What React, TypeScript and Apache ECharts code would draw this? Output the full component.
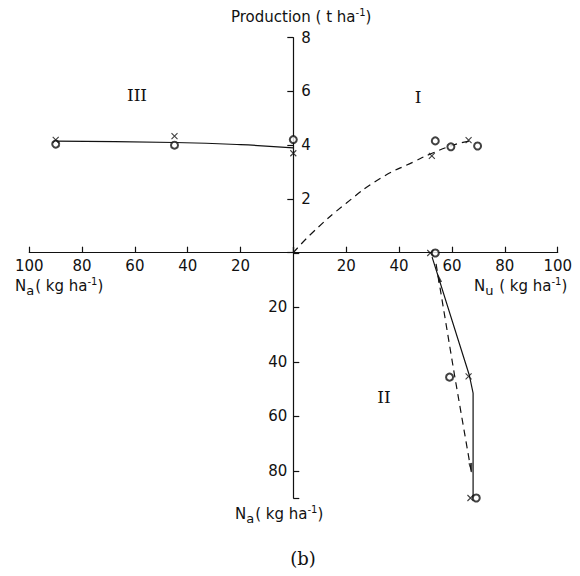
import React, { useEffect, useRef } from "react";
import * as echarts from "echarts";

// Axis ticks (kg ha-1 for the horizontal axis and lower half, t ha-1 for production)
const appliedLeftTicks = [-100, -80, -60, -40, -20, 0];
const uptakeTicks = [0, 20, 40, 60, 80, 100];
const productionTicks = [0, 2, 4, 6, 8];
const appliedTicks = [0, 20, 40, 60, 80];
const appliedMax = 90;

// Quadrant I: production vs N uptake
const curveI = [[0, 0], [7.6, 0.78], [20, 1.84], [33, 2.77], [45.5, 3.38], [52, 3.68], [62, 4.05], [67, 4.15]];
const circlesI = [[53.7, 4.16], [59.6, 3.94], [69.7, 3.97]];
const crossesI = [[52.4, 3.6], [66.3, 4.19]];

// Quadrant III: production vs N applied (plotted to the left)
const curveIII = [[-90, 4.15], [-45, 4.1], [-20, 4.02], [0, 3.9]];
const circlesIII = [[-90, 4.04], [-45, 4.0], [0, 4.21]];
const crossesIII = [[-90, 4.2], [-45, 4.34], [0, 3.7]];

// Quadrant II: N applied (downwards) vs N uptake
const solidII = [[52.5, 1.5], [66.6, 45], [68, 51.5], [68, 90]];
const dashedII = [[54, 4], [61, 45], [67.6, 82]];
const circlesII = [[53.7, 0], [59.1, 45.6], [69.2, 90]];
const crossesII = [[51.8, 0], [66.3, 45.3], [67, 90]];
const arrowsII = [
  { value: [55, 9], symbolRotate: 17 },
  { value: [67.3, 79], symbolRotate: 190 },
];

const INK = "#111";
const SANS = "DejaVu Sans";
const SERIF = "DejaVu Serif";
const CROSS = "path://M0 0L10 10M10 0L0 10";

const absLabel = (v: number) => (v === 0 ? "" : String(Math.abs(v)));
const appliedLabel = (v: number) => (appliedTicks.includes(v) && v !== 0 ? String(v) : "");

const unitRich = {
  n: { fontFamily: SANS, fontSize: 15, color: INK },
  s: { fontFamily: SANS, fontSize: 13, color: INK, padding: [8, 1, 0, 0] },
  p: { fontFamily: SANS, fontSize: 10, color: INK, padding: [0, 0, 9, 0] },
};

function unitText(x: number, y: number, text: string) {
  return {
    type: "text",
    x,
    y,
    style: {
      text,
      rich: unitRich,
      align: "left",
      textAlign: "left",
      verticalAlign: "middle",
      textVerticalAlign: "middle",
      fill: INK,
    },
  };
}

function serifText(x: number, y: number, text: string, size: number) {
  return {
    type: "text",
    x,
    y,
    style: {
      text,
      fontFamily: SERIF,
      fontSize: size,
      fill: INK,
      align: "center",
      textAlign: "center",
      verticalAlign: "middle",
      textVerticalAlign: "middle",
    },
  };
}

export default function App() {
  const ref = useRef<HTMLDivElement>(null);

  useEffect(() => {
    if (!ref.current) return;
    const chart = echarts.init(ref.current, undefined, { renderer: "svg" });

    const axisLine = { onZero: false, lineStyle: { color: INK, width: 1.2 } };
    const tickLine = { color: INK, width: 1.2 };
    const labelStyle = { color: INK, fontFamily: SANS, fontSize: 15 };

    const lineStyle = (dashed: boolean) => ({
      color: INK,
      width: 1.2,
      type: dashed ? [7, 5] : "solid",
    });

    const circles = (data: number[][], grid: number) => ({
      type: "scatter",
      xAxisIndex: grid,
      yAxisIndex: grid,
      data,
      symbol: "emptyCircle",
      symbolSize: 7,
      itemStyle: { color: INK, borderColor: INK, borderWidth: 1.1 },
      clip: false,
      z: 5,
    });
    const crosses = (data: number[][], grid: number) => ({
      type: "scatter",
      xAxisIndex: grid,
      yAxisIndex: grid,
      data,
      symbol: CROSS,
      symbolSize: 6,
      itemStyle: { color: "transparent", borderColor: INK, borderWidth: 1.1 },
      clip: false,
      z: 5,
    });

    const nAxisBase = {
      type: "value",
      position: "bottom",
      interval: 20,
      axisLine,
      axisTick: { inside: true, length: 6, lineStyle: tickLine },
      axisLabel: { ...labelStyle, margin: 6, formatter: absLabel, showMinLabel: true, showMaxLabel: true },
      splitLine: { show: false },
    };

    chart.setOption({
      animation: false,
      backgroundColor: "#fff",
      grid: [
        // upper left: production vs N applied
        { left: 29.3, width: 264, top: 37.7, height: 215 },
        // upper right: production vs N uptake
        { left: 293.3, right: 22.3, top: 37.7, height: 215 },
        // lower right: N applied vs N uptake
        { left: 293.3, right: 22.3, top: 253, height: 245 },
      ],
      xAxis: [
        {
          ...nAxisBase,
          gridIndex: 0,
          min: appliedLeftTicks[0],
          max: appliedLeftTicks[appliedLeftTicks.length - 1],
        },
        {
          ...nAxisBase,
          gridIndex: 1,
          min: uptakeTicks[0],
          max: uptakeTicks[uptakeTicks.length - 1],
        },
        { gridIndex: 2, type: "value", min: 0, max: 100, show: false },
      ],
      yAxis: [
        {
          gridIndex: 0,
          type: "value",
          min: productionTicks[0],
          max: productionTicks[productionTicks.length - 1],
          interval: 2,
          show: false,
        },
        {
          gridIndex: 1,
          type: "value",
          min: productionTicks[0],
          max: productionTicks[productionTicks.length - 1],
          interval: productionTicks[1] - productionTicks[0],
          position: "left",
          axisLine,
          axisTick: { inside: false, length: 6, lineStyle: tickLine },
          axisLabel: { ...labelStyle, inside: true, margin: 8, formatter: absLabel },
          splitLine: { show: false },
        },
        {
          gridIndex: 2,
          type: "value",
          min: appliedTicks[0],
          max: appliedMax,
          interval: appliedTicks[1] - appliedTicks[0],
          inverse: true,
          position: "left",
          axisLine,
          axisTick: { inside: true, length: 6, lineStyle: tickLine },
          axisLabel: { ...labelStyle, margin: 6, formatter: appliedLabel },
          splitLine: { show: false },
        },
      ],
      series: [
        {
          type: "line",
          xAxisIndex: 1,
          yAxisIndex: 1,
          data: curveI,
          smooth: true,
          symbol: "none",
          lineStyle: lineStyle(true),
        },
        circles(circlesI, 1),
        crosses(crossesI, 1),
        {
          type: "line",
          xAxisIndex: 0,
          yAxisIndex: 0,
          data: curveIII,
          smooth: true,
          symbol: "none",
          lineStyle: lineStyle(false),
        },
        circles(circlesIII, 0),
        crosses(crossesIII, 0),
        {
          type: "line",
          xAxisIndex: 2,
          yAxisIndex: 2,
          data: solidII,
          symbol: "none",
          lineStyle: lineStyle(false),
        },
        {
          type: "line",
          xAxisIndex: 2,
          yAxisIndex: 2,
          data: dashedII,
          symbol: "none",
          lineStyle: lineStyle(true),
        },
        circles(circlesII, 2),
        crosses(crossesII, 2),
        {
          type: "scatter",
          xAxisIndex: 2,
          yAxisIndex: 2,
          data: arrowsII,
          symbol: "triangle",
          symbolSize: [4, 10],
          itemStyle: { color: INK },
          z: 6,
        },
      ],
      graphic: [
        {
          type: "text",
          x: 231,
          y: 17,
          style: {
            text: "{n|Production ( t ha}{p|-1}{n|)}",
            rich: unitRich,
            align: "left",
            textAlign: "left",
            verticalAlign: "middle",
            textVerticalAlign: "middle",
            fill: INK,
          },
        },
        unitText(15, 286, "{n|N}{s|a}{n|( kg ha}{p|-1}{n|)}"),
        unitText(474, 286, "{n|N}{s|u}{n| ( kg ha}{p|-1}{n|)}"),
        unitText(235, 514, "{n|N}{s|a}{n|( kg ha}{p|-1}{n|)}"),
        serifText(137, 95, "III", 17),
        serifText(418, 97, "I", 17),
        serifText(384, 397, "II", 17),
        serifText(303, 558, "(b)", 18),
      ],
    });

    return () => chart.dispose();
  }, []);

  return (
    <div
      ref={ref}
      style={{ position: "absolute", left: 0, top: 0, width: 580, height: 576, background: "#fff" }}
    />
  );
}
